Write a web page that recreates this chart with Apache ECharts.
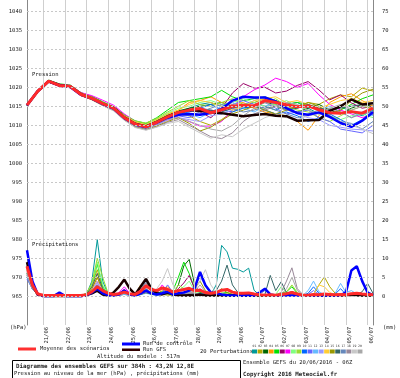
<!DOCTYPE html>
<html><head><meta charset="utf-8">
<script src="https://cdn.jsdelivr.net/npm/echarts@6/dist/echarts.min.js"></script>
<style>html,body{margin:0;padding:0;background:#fff}#c{width:400px;height:378px}</style>
</head><body><div id="c"></div>
<script>
// ---- axes / ticks ----
const hours12 = [0,12,24,36,48,60,72,84,96,108,120,132,144,156,168,180,192,204,216,228,240,252,264,276,288,300,312,324,336,348,360,372,384];
const hours6 = [0,6,12,18,24,30,36,42,48,54,60,66,72,78,84,90,96,102,108,114,120,126,132,138,144,150,156,162,168,174,180,186,192,198,204,210,216,222,228,234,240,246,252,258,264,270,276,282,288,294,300,306,312,318,324,330,336,342,348,354,360,366,372,378,384];
const dateLabels = ['21/06','22/06','23/06','24/06','25/06','26/06','27/06','28/06','29/06','30/06','01/07','02/07','03/07','04/07','05/07','06/07'];
const dayHours = [18,42,66,90,114,138,162,186,210,234,258,282,306,330,354,378];
const labelHours = [22,46,70,94,118,142,166,190,214,238,262,286,310,334,358,382];
const leftTicks = [965,970,975,980,985,990,995,1000,1005,1010,1015,1020,1025,1030,1035,1040];
const rightTicks = [0,5,10,15,20,25,30,35,40,45,50,55,60,65,70,75];
const pertNames = ['01','02','03','04','05','06','07','08','09','10','11','12','13','14','15','16','17','18','19','20'];

// ---- pressure (hPa), 12-hourly ----
const meanP = [1015.3,1019.0,1021.6,1020.5,1020.2,1018.1,1017.1,1015.7,1014.5,1012.0,1010.3,1009.6,1010.8,1012.2,1013.4,1014.0,1014.4,1013.3,1014.1,1015.0,1015.3,1015.1,1016.5,1016.0,1015.4,1014.9,1015.1,1014.1,1013.3,1013.2,1013.6,1013.2,1014.5];
const ctrlP = [1015.3,1019.0,1021.6,1020.5,1020.1,1018.0,1017.0,1015.6,1014.4,1011.9,1010.2,1009.5,1010.7,1012.0,1012.8,1013.0,1012.8,1013.2,1014.3,1016.5,1017.5,1017.3,1017.3,1016.3,1014.5,1013.2,1012.8,1013.4,1012.2,1010.6,1009.6,1011.2,1013.5];
const gfsP = [1015.3,1019.0,1021.6,1020.6,1020.2,1018.2,1017.1,1015.7,1014.6,1012.1,1010.4,1009.7,1010.9,1012.3,1013.4,1014.0,1013.8,1013.5,1013.2,1012.8,1012.4,1012.7,1013.0,1012.5,1012.4,1011.2,1011.3,1011.4,1013.8,1015.0,1016.8,1015.5,1015.8];
const p01 = [1015.2,1019.1,1021.5,1020.6,1020.0,1018.3,1017.4,1015.9,1014.2,1012.3,1010.6,1009.9,1011.3,1012.8,1013.5,1014.5,1015.5,1016.0,1015.0,1014.5,1015.5,1016.0,1015.0,1014.0,1015.5,1016.0,1014.5,1013.0,1014.0,1015.0,1013.5,1012.5,1014.0];
const p02 = [1015.4,1018.8,1021.7,1020.3,1020.4,1017.9,1016.8,1015.3,1014.0,1011.6,1009.8,1009.2,1010.4,1011.8,1013.0,1012.5,1011.0,1010.0,1011.5,1013.5,1015.0,1016.0,1017.0,1016.5,1015.0,1014.5,1016.0,1015.5,1017.0,1018.0,1017.5,1019.8,1019.0];
const p03 = [1015.3,1019.2,1021.8,1020.7,1020.3,1018.4,1017.2,1015.6,1014.6,1012.2,1010.5,1009.9,1011.0,1012.6,1013.8,1014.5,1015.0,1015.5,1016.0,1015.0,1014.5,1015.0,1016.0,1015.5,1014.0,1013.5,1014.5,1015.5,1014.0,1013.0,1014.5,1015.5,1015.0];
const p04 = [1015.2,1018.9,1021.4,1020.4,1020.1,1018.0,1017.5,1016.0,1014.8,1012.5,1011.0,1010.3,1011.6,1013.0,1014.0,1016.0,1016.5,1017.5,1016.0,1015.5,1016.0,1014.5,1013.5,1013.0,1012.5,1011.0,1008.7,1012.5,1016.0,1017.5,1018.3,1016.5,1015.0];
const p05 = [1015.5,1019.0,1021.9,1020.9,1020.6,1018.6,1017.6,1016.2,1014.9,1012.8,1011.2,1010.5,1012.0,1014.0,1016.0,1016.5,1017.0,1017.5,1019.2,1017.5,1016.5,1017.0,1017.5,1016.5,1015.5,1016.0,1015.5,1014.0,1013.0,1014.0,1015.5,1017.0,1018.0];
const p06 = [1015.1,1018.7,1021.3,1020.2,1019.9,1017.8,1016.9,1015.4,1014.3,1011.9,1010.1,1009.3,1010.3,1011.5,1012.5,1014.0,1013.5,1012.0,1014.5,1018.5,1021.0,1019.8,1020.0,1018.5,1019.0,1020.5,1021.5,1019.3,1016.7,1018.0,1015.9,1014.5,1015.0];
const p07 = [1015.4,1019.2,1021.7,1020.8,1020.5,1018.6,1017.8,1016.6,1015.3,1013.0,1011.0,1009.8,1010.2,1011.4,1012.0,1011.0,1009.8,1009.8,1011.0,1014.0,1017.5,1019.3,1020.6,1022.4,1021.5,1020.0,1021.0,1018.0,1015.5,1014.0,1013.0,1012.0,1013.0];
const p08 = [1015.3,1019.1,1021.6,1020.6,1020.3,1018.3,1017.3,1015.8,1014.7,1012.4,1010.8,1010.2,1011.5,1013.2,1014.5,1015.0,1016.0,1016.5,1015.5,1016.0,1017.0,1016.0,1015.0,1015.5,1016.5,1015.0,1014.0,1013.0,1012.5,1011.5,1012.5,1013.0,1012.0];
const p09 = [1015.2,1018.9,1021.5,1020.5,1020.2,1018.2,1017.2,1015.9,1014.6,1012.6,1011.1,1010.6,1011.8,1013.5,1015.0,1016.5,1015.5,1015.0,1016.0,1017.0,1015.5,1015.0,1016.0,1017.0,1015.0,1014.0,1013.5,1012.0,1011.0,1012.5,1014.0,1015.0,1014.5];
const p10 = [1015.3,1019.0,1021.6,1020.4,1020.0,1017.9,1016.9,1015.5,1014.3,1011.8,1010.2,1009.5,1010.7,1012.0,1013.0,1013.5,1014.5,1015.5,1014.0,1013.5,1014.5,1015.0,1014.0,1013.0,1013.5,1012.5,1011.0,1012.0,1013.0,1011.5,1010.0,1011.5,1013.0];
const p11 = [1015.4,1019.1,1021.8,1020.6,1020.2,1018.0,1016.8,1015.4,1014.1,1011.7,1009.9,1009.1,1010.2,1011.6,1012.5,1012.0,1013.0,1014.0,1013.5,1015.5,1016.5,1015.5,1016.0,1014.5,1013.0,1013.5,1014.0,1012.0,1011.0,1009.0,1008.5,1008.0,1010.0];
const p12 = [1015.3,1018.9,1021.5,1020.3,1020.1,1018.1,1017.0,1015.6,1014.4,1011.9,1010.4,1009.7,1010.9,1012.3,1013.5,1013.0,1012.0,1013.5,1015.0,1016.0,1014.5,1013.5,1015.0,1016.0,1015.5,1014.5,1015.5,1014.0,1015.0,1013.5,1012.0,1013.5,1012.5];
const p13 = [1015.2,1019.0,1021.6,1020.5,1020.3,1018.2,1017.1,1015.5,1014.2,1011.6,1009.7,1009.0,1010.0,1011.4,1012.0,1011.5,1011.0,1012.5,1013.0,1014.0,1015.0,1016.5,1017.5,1016.0,1014.5,1013.0,1012.0,1011.5,1010.0,1009.5,1009.0,1008.8,1008.5];
const p14 = [1015.5,1019.2,1021.7,1020.7,1020.4,1018.5,1017.4,1016.0,1014.8,1012.5,1010.9,1010.1,1011.4,1012.9,1014.0,1015.5,1016.5,1016.0,1015.0,1014.0,1015.0,1016.5,1017.0,1017.5,1016.0,1016.5,1015.5,1014.5,1015.5,1016.5,1017.0,1016.0,1016.5];
const p15 = [1015.3,1018.8,1021.4,1020.4,1020.0,1017.8,1016.7,1015.2,1013.9,1011.4,1009.6,1008.9,1009.8,1011.0,1012.0,1010.5,1008.5,1009.5,1011.3,1013.0,1014.0,1015.0,1014.0,1013.0,1014.0,1015.0,1016.0,1015.0,1013.0,1014.0,1016.5,1018.5,1019.5];
const p16 = [1015.3,1019.0,1021.6,1020.5,1020.2,1018.1,1017.2,1015.8,1014.5,1012.1,1010.4,1009.8,1011.0,1012.5,1013.5,1014.0,1014.5,1014.0,1013.5,1014.5,1015.5,1015.0,1014.5,1015.0,1014.0,1014.5,1015.5,1014.5,1014.0,1014.5,1015.0,1015.5,1016.0];
const p17 = [1015.2,1019.1,1021.5,1020.6,1020.1,1018.0,1017.0,1015.6,1014.4,1011.9,1010.2,1009.4,1010.6,1012.0,1013.0,1012.5,1013.5,1014.5,1015.5,1014.5,1013.5,1014.0,1015.0,1014.0,1013.0,1012.0,1013.0,1014.0,1012.5,1011.0,1010.5,1009.0,1011.0];
const p18 = [1015.4,1018.9,1021.6,1020.4,1020.2,1018.2,1016.9,1015.3,1014.0,1011.5,1009.5,1008.8,1009.6,1010.8,1011.5,1010.0,1008.5,1007.0,1006.5,1008.0,1011.0,1013.0,1014.0,1015.0,1014.0,1013.5,1012.5,1013.5,1014.5,1013.5,1012.0,1013.0,1013.5];
const p19 = [1015.3,1019.0,1021.7,1020.5,1020.1,1018.0,1016.8,1015.2,1013.8,1011.3,1009.4,1008.7,1009.5,1010.5,1011.0,1009.5,1008.0,1006.6,1007.5,1007.0,1009.0,1010.5,1012.0,1013.0,1012.0,1011.5,1012.5,1013.0,1012.0,1011.0,1010.0,1009.0,1007.8];
const p20 = [1015.3,1019.1,1021.5,1020.6,1020.3,1018.3,1017.1,1015.5,1014.2,1011.8,1010.0,1009.2,1010.3,1011.6,1012.0,1011.0,1010.0,1009.0,1008.5,1010.0,1012.5,1014.5,1016.0,1015.0,1016.0,1015.5,1014.0,1013.0,1014.5,1015.5,1014.0,1015.0,1016.0];

// ---- precipitation (mm), 6-hourly ----
const meanR = [7.9,3.0,0.6,0.3,0.2, 0.2,0.3,0.2,0.2,0.2, 0.2,0.4,1.2,2.5,1.5, 0.8,0.5,0.7,1.1,0.7, 0.5,1.3,2.8,1.8,1.5, 2.2,1.8,1.1,1.5,1.8, 2.1,1.5,1.6,1.0,0.8, 1.0,1.6,1.8,1.1,0.8, 0.8,0.9,0.6,0.4,0.3, 0.4,0.3,0.5,0.7,1.0, 0.6,0.3,0.3,0.5,0.4, 0.6,0.5,0.4,0.5,0.4, 0.7,0.8,0.6,0.5,0.4];
const ctrlR = [12.1,4.0,0.5,0.1,0.1, 0.1,1.0,0.1,0.1,0.1, 0.1,0.3,1.0,2.0,0.8, 0.3,0.2,0.5,1.5,0.5, 0.2,0.8,1.5,0.8,0.5, 0.8,1.2,0.5,0.8,1.0, 1.5,2.1,6.4,2.9,1.0, 0.8,0.5,0.3,0.2,0.2, 0.2,0.2,0.2,1.0,2.0, 0.5,0.2,0.2,0.2,0.2, 0.2,0.2,0.2,0.2,0.2, 0.2,0.2,0.2,0.2,1.1, 6.8,7.9,4.0,1.0,0.3];
const gfsR = [9.0,3.0,0.4,0.1,0.1, 0.1,0.1,0.1,0.1,0.1, 0.1,0.3,0.8,1.5,0.5, 0.2,1.0,2.5,4.4,2.0, 0.5,2.5,4.6,2.0,0.8, 0.5,1.0,0.5,0.3,0.2, 0.3,0.2,0.5,0.2,0.2, 0.3,0.2,0.2,0.3,0.2, 0.2,0.2,0.2,0.2,0.3, 0.2,0.3,0.2,0.5,1.0, 0.4,0.2,0.2,0.3,0.2, 0.3,0.2,0.2,0.2,0.3, 0.4,0.3,0.2,0.3,0.2];
const r01 = [6,2.5,0.5,0.1,0.1, 0.1,0.1,0.1,0.1,0.1, 0.1,0.5,4,14.9,4, 0.5,0.2,0.3,0.8,0.3, 0.2,0.5,1,0.5,0.3, 0.5,0.8,0.3,0.5,0.8, 1,0.5,0.8,0.5,0.5, 3,13.4,11.7,7.4,7.1, 6.4,7.4,1.6,0.3,0.2, 0.3,0.2,0.5,0.3,0.5, 0.3,0.2,0.2,0.3,0.2, 0.3,0.2,0.2,0.3,0.2, 0.2,0.3,0.5,0.8,0.3];
const r02 = [5,2,0.4,0.1,0.1, 0.1,0.1,0.1,0.1,0.1, 0.1,0.8,3,7,2, 0.4,0.2,0.3,0.5,0.3, 0.2,0.6,1.2,0.6,0.4, 0.5,0.3,0.3,0.6,1.0, 0.8,0.5,0.6,0.4,0.3, 0.5,0.8,0.6,0.4,0.3, 0.3,0.2,0.2,0.2,0.2, 0.2,0.2,0.3,0.5,0.4, 0.3,0.2,0.2,0.5,3, 5.1,2.5,0.8,0.3,0.2, 0.3,0.4,0.3,0.2,0.2];
const r03 = [7,2.5,0.5,0.1,0.1, 0.1,0.1,0.1,0.1,0.1, 0.1,0.4,1.5,4,1.2, 0.4,0.2,0.4,1.0,0.4, 0.2,0.5,1.5,1.0,0.6, 1.0,0.8,0.6,3,8, 9.7,3,1.0,0.5,0.3, 0.4,0.6,0.4,0.3,0.2, 0.2,0.2,0.2,0.2,0.2, 0.2,0.3,0.2,0.4,0.8, 0.3,0.2,0.2,0.2,0.2, 0.3,0.2,0.2,0.2,0.2, 0.3,0.2,0.3,0.2,0.2];
const r04 = [8,3,0.6,0.1,0.1, 0.1,0.2,0.1,0.1,0.1, 0.1,0.5,2,5,1.5, 0.5,0.2,0.5,1.2,0.5, 0.3,1.0,2.0,1.0,0.6, 1.5,2.5,1.0,0.6,0.5, 0.8,0.6,0.5,0.4,0.3, 0.5,0.8,0.5,0.3,0.3, 0.3,0.2,0.2,0.2,0.2, 0.3,0.2,0.4,0.6,1.0, 0.4,0.2,0.2,0.3,0.2, 0.3,0.3,0.2,0.3,0.2, 0.5,0.4,0.3,0.2,0.2];
const r05 = [6,2.5,0.5,0.1,0.1, 0.1,0.1,0.1,0.1,0.1, 0.1,0.8,3,8.5,2.5, 0.6,0.3,0.4,0.8,0.4, 0.3,0.8,1.5,0.8,0.8, 1.2,1.0,1.5,5,9, 6,2,1.0,0.6,0.4, 0.5,0.8,1.0,0.5,0.4, 0.3,0.3,0.2,0.2,0.2, 0.3,0.3,0.8,1.2,2.5, 0.8,0.3,0.2,0.3,0.2, 0.3,0.2,0.2,0.3,0.2, 0.3,0.4,0.3,0.2,0.2];
const r06 = [5.5,2,0.4,0.1,0.1, 0.1,0.1,0.1,0.1,0.1, 0.1,0.3,1.2,3,1.0, 0.3,0.3,0.8,1.8,0.6, 0.4,1.5,3.5,1.5,0.8, 0.8,0.6,0.8,2.0,3.5, 5.5,2.0,0.8,0.4,0.3, 0.4,0.5,0.4,0.3,0.2, 0.2,0.2,0.2,0.2,0.2, 0.2,0.2,0.3,0.3,0.5, 0.3,0.2,0.2,0.2,0.2, 0.2,0.2,0.2,0.2,0.2, 0.3,0.2,0.2,0.2,0.2];
const r07 = [6.5,2.5,0.5,0.1,0.1, 0.1,0.1,0.1,0.1,0.1, 0.1,0.4,1.5,4,1.2, 0.4,0.3,1.0,2.5,0.8, 0.3,0.8,1.2,0.8,1.0, 3,1.5,0.6,0.5,0.6, 0.8,1.0,2.0,0.8,0.4, 0.3,0.4,0.3,0.2,0.2, 0.2,0.2,0.2,0.2,0.2, 0.3,0.2,0.2,0.3,0.5, 0.3,0.2,0.2,0.2,0.2, 0.2,0.2,0.2,0.2,0.2, 0.2,0.3,0.2,0.2,0.2];
const r08 = [7.5,3,0.6,0.1,0.1, 0.1,0.1,0.1,0.1,0.1, 0.1,0.6,3,9,3, 0.5,0.2,0.4,0.8,0.4, 0.3,0.6,1.2,0.6,0.5, 0.8,1.0,0.8,1.5,2.5, 4,1.5,0.8,0.5,0.4, 0.5,0.6,0.5,0.3,0.3, 0.3,0.2,0.2,0.2,0.2, 0.3,0.5,2.5,1.0,0.6, 0.3,0.2,0.2,0.3,0.2, 0.3,0.2,0.2,0.2,0.2, 0.3,0.3,0.2,0.2,0.2];
const r09 = [6,2.5,0.5,0.1,0.1, 0.1,0.1,0.1,0.1,0.1, 0.1,0.8,3.5,10,5, 0.8,0.3,0.4,0.7,0.4, 0.3,0.5,1.0,0.6,0.5, 0.7,0.6,0.8,3,2, 1.5,1.0,0.6,0.4,0.3, 0.4,0.5,0.4,0.3,0.3, 0.2,0.2,0.2,0.2,0.2, 0.2,0.3,0.5,1.2,3, 1.0,0.3,0.2,0.2,0.2, 0.2,0.2,0.2,0.2,0.2, 0.2,0.3,0.2,0.2,0.2];
const r10 = [5,2,0.4,0.1,0.1, 0.1,0.1,0.1,0.1,0.1, 0.1,0.3,1.2,3,1.0, 0.3,0.2,0.3,0.6,0.4, 0.3,0.8,2.0,0.8,0.4, 0.5,0.6,0.4,0.5,0.6, 0.8,0.6,0.8,0.5,0.3, 0.3,0.4,0.3,0.2,0.2, 0.2,0.2,0.2,0.2,0.2, 0.2,0.2,0.2,0.3,0.3, 0.2,0.2,0.8,2.5,0.8, 0.3,0.2,0.6,2,0.5, 0.3,0.2,0.2,0.2,0.2];
const r11 = [4.5,2,0.4,0.1,0.1, 0.1,0.1,0.1,0.1,0.1, 0.1,0.3,1.0,2,0.8, 0.3,0.2,0.3,0.5,0.3, 0.2,0.5,1.0,0.6,0.5, 1.0,3,1.0,0.5,0.4, 0.6,0.5,0.6,0.4,0.3, 0.3,0.3,0.3,0.2,0.2, 0.2,0.2,0.2,0.2,0.2, 0.2,0.2,0.2,0.2,0.3, 0.2,0.2,0.5,1.5,0.5, 0.2,0.2,0.2,0.3,0.2, 0.3,0.2,0.2,0.2,0.2];
const r12 = [5,2,0.4,0.1,0.1, 0.1,0.1,0.1,0.1,0.1, 0.1,0.3,1.0,2.5,0.8, 0.3,0.2,0.3,0.5,0.3, 0.2,0.4,0.8,0.5,0.4, 0.5,0.5,0.4,0.5,0.6, 0.8,0.6,0.5,0.4,0.3, 0.3,0.4,0.3,0.2,0.2, 0.2,0.2,0.2,0.2,0.2, 0.2,0.2,0.2,0.3,0.2, 0.2,0.2,1.5,4.0,1.2, 0.4,0.3,0.8,3.4,1.0, 1.5,0.6,0.3,0.2,0.2];
const r13 = [6,2.5,0.5,0.1,0.1, 0.1,0.1,0.1,0.1,0.1, 0.1,0.4,1.5,3.5,1.0, 0.3,0.3,0.6,1.5,0.5, 0.3,0.6,1.2,0.6,0.4, 0.6,0.8,0.5,0.6,0.8, 1.2,2.5,5,3,1.0, 0.5,0.6,0.4,0.3,0.2, 0.2,0.2,0.2,0.2,0.2, 0.2,0.2,0.2,0.3,0.4, 0.3,0.2,0.3,0.6,0.3, 0.2,0.2,0.2,0.4,0.2, 0.3,0.2,0.2,0.2,0.2];
const r14 = [7,2.5,0.5,0.1,0.1, 0.1,0.1,0.1,0.1,0.1, 0.1,0.6,2.5,6,2, 0.5,0.2,0.4,0.8,0.4, 0.4,3,1.5,0.6,0.5, 0.8,0.6,0.5,0.6,0.8, 1.0,0.6,0.5,0.4,0.3, 0.4,0.5,0.4,0.3,0.2, 0.2,0.2,0.2,0.2,0.2, 0.2,0.2,0.3,0.4,0.6, 0.3,0.2,0.2,0.5,3, 2.5,1.0,0.4,0.3,0.2, 0.3,0.3,0.2,0.2,0.2];
const r15 = [6.5,2.5,0.5,0.1,0.1, 0.1,0.1,0.1,0.1,0.1, 0.1,0.5,2,5,1.5, 0.4,0.2,0.4,0.8,0.4, 0.3,0.6,1.0,0.6,0.5, 0.7,0.6,0.5,0.8,1.0, 1.5,2,4,1.5,0.6, 0.8,2,1.0,0.5,0.3, 0.3,0.3,0.2,0.2,0.2, 0.2,0.2,0.3,0.4,0.5, 0.3,0.2,0.2,0.2,0.2, 0.3,0.2,0.2,0.2,0.2, 0.3,0.2,0.2,0.2,0.2];
const r16 = [8,3,0.6,0.1,0.1, 0.1,0.1,0.1,0.1,0.1, 0.1,0.6,2.5,6,2, 0.5,0.2,0.4,0.9,0.4, 0.3,0.5,1.0,0.6,0.5, 0.7,0.7,0.5,0.6,0.8, 1.0,0.6,0.5,0.4,0.5, 1.5,4,8.2,3,1.0, 0.6,0.5,0.4,0.3,0.5, 5.5,1.5,3.8,1.0,0.5, 0.3,0.2,0.2,0.3,0.2, 0.3,0.2,0.2,0.3,0.2, 0.3,0.5,1.2,3.4,0.8];
const r17 = [5,2,0.4,0.1,0.1, 0.1,0.1,0.1,0.1,0.1, 0.1,0.3,0.8,1.5,0.6, 0.3,0.2,0.4,0.8,0.4, 0.3,1.5,4,1.5,0.6, 1.0,2,0.8,0.5,0.5, 0.6,0.5,0.6,0.4,0.3, 0.3,0.4,0.3,0.2,0.2, 0.2,0.2,0.2,0.5,1.5, 0.5,0.2,0.2,0.3,0.3, 0.2,0.2,0.2,0.3,0.2, 0.2,0.2,0.2,0.3,0.2, 0.3,0.3,0.2,0.2,0.2];
const r18 = [6,2.5,0.5,0.1,0.1, 0.1,0.1,0.1,0.1,0.1, 0.1,0.4,1.2,3,1.0, 0.3,0.2,0.4,0.8,0.4, 0.3,0.6,1.0,0.8,1.0, 2,1.2,0.6,0.5,0.6, 0.8,0.6,0.6,0.4,0.3, 0.3,0.4,0.3,0.2,0.2, 0.2,0.2,0.2,0.2,0.2, 0.3,0.4,1.0,4,7.5, 2,0.5,0.2,0.3,0.2, 0.3,0.2,0.2,0.2,0.2, 0.3,0.2,0.2,0.2,0.2];
const r19 = [7,2.5,0.5,0.1,0.1, 0.1,0.1,0.1,0.1,0.1, 0.1,0.5,1.5,4,1.5, 0.4,0.2,0.4,0.8,0.5, 0.4,0.8,1.5,1.2,2, 4,7.3,3,1.0,0.8, 1.0,1.5,4,7.0,3, 1.0,0.6,0.4,0.3,0.2, 0.2,0.2,0.2,0.2,0.2, 0.2,0.2,0.3,0.5,0.4, 0.3,0.2,0.2,0.3,0.2, 0.3,0.2,0.2,0.2,0.2, 0.3,0.2,0.2,0.2,0.2];
const r20 = [5.5,2,0.5,0.1,0.1, 0.1,0.1,0.1,0.1,0.1, 0.1,0.3,1.0,2,0.8, 0.3,0.2,0.4,0.9,0.4, 0.3,1.2,3.5,1.2,0.6, 0.8,0.8,0.5,0.6,0.8, 1.0,1.2,3,1.2,0.5, 0.4,0.5,0.4,0.3,0.2, 0.2,0.2,0.2,0.2,0.2, 0.2,0.3,0.5,2,5, 1.5,0.4,0.2,0.3,0.2, 0.3,0.2,0.2,0.2,0.2, 0.3,0.2,0.2,0.2,0.2];

const pertP = [p01,p02,p03,p04,p05,p06,p07,p08,p09,p10,p11,p12,p13,p14,p15,p16,p17,p18,p19,p20];
const pertR = [r01,r02,r03,r04,r05,r06,r07,r08,r09,r10,r11,r12,r13,r14,r15,r16,r17,r18,r19,r20];
const pertColors = ['#009999','#b3a800','#006600','#ff9900','#00e000','#990066','#ff00ff','#80ff80','#99dd33','#0066ff','#6666ff','#66bbff','#9999ff','#ffcc33','#999900','#336666','#6688bb','#998899','#c8c8c8','#a8a8a8'];

// ---- build chart ----
const chart = echarts.init(document.getElementById('c'), null, {renderer:'canvas'});
const FONT = '"DejaVu Sans Mono", monospace';
const pair = (hs, vs) => hs.map((h, i) => [h, vs[i]]);

const series = [];
series.push({
  type:'line', data:[[0,1000]], showSymbol:false, lineStyle:{opacity:0}, z:1, silent:true,
  markLine:{silent:true, symbol:['none','none'], label:{show:false}, animation:false,
    data:[].concat(
      dayHours.map(h => ({xAxis:h, lineStyle:{color:'#cfcfcf', width:1, type:'solid'}})),
      leftTicks.map(v => ({yAxis:v, lineStyle:{color:'#c8c8c8', width:1, type:[2,2]}}))
    )}
});
pertP.forEach((arr, k) => series.push({type:'line', data:pair(hours12, arr), showSymbol:false, yAxisIndex:0, lineStyle:{color:pertColors[k], width:1}, z:2, silent:true}));
pertR.forEach((arr, k) => series.push({type:'line', data:pair(hours6, arr), showSymbol:false, yAxisIndex:1, lineStyle:{color:pertColors[k], width:1}, z:2, silent:true}));
series.push({type:'line', data:pair(hours12, gfsP), showSymbol:false, yAxisIndex:0, lineStyle:{color:'#1a0000', width:2.5}, z:3});
series.push({type:'line', data:pair(hours6, gfsR), showSymbol:false, yAxisIndex:1, lineStyle:{color:'#1a0000', width:2.5}, z:3});
series.push({type:'line', data:pair(hours12, ctrlP), showSymbol:false, yAxisIndex:0, lineStyle:{color:'#0000ff', width:2.5}, z:3});
series.push({type:'line', data:pair(hours6, ctrlR), showSymbol:false, yAxisIndex:1, lineStyle:{color:'#0000ff', width:2.5}, z:3});
series.push({type:'line', data:pair(hours12, meanP), showSymbol:false, yAxisIndex:0, lineStyle:{color:'#ff2a2a', width:3}, z:4});
series.push({type:'line', data:pair(hours6, meanR), showSymbol:false, yAxisIndex:1, lineStyle:{color:'#ff2a2a', width:3}, z:4});

function txt(x, y, s, opt) {
  opt = opt || {};
  return {type:'text', x:x, y:y, z:10, silent:true, style:{text:s, fill:opt.fill||'#222',
    font:(opt.bold?'bold ':'') + (opt.size||5.5) + 'px ' + FONT,
    align:opt.align||'left', textAlign:opt.align||'left', verticalAlign:'middle', textVerticalAlign:'middle'}};
}
const graphics = [
  txt(32, 75, 'Pression'),
  txt(32, 245, 'Précipitations'),
  txt(10, 328, '(hPa)'),
  txt(383, 328, '(mm)'),
  {type:'rect', z:10, shape:{x:18, y:347.5, width:18, height:3}, style:{fill:'#ff3030'}},
  txt(40, 349, 'Moyenne des scénarios'),
  {type:'rect', z:10, shape:{x:122, y:342.5, width:18, height:3}, style:{fill:'#0000ff'}},
  txt(143, 344, 'Run de contrôle'),
  {type:'rect', z:10, shape:{x:122, y:348.5, width:18, height:2.5}, style:{fill:'#330000'}},
  txt(143, 350, 'Run GFS'),
  txt(97, 357, 'Altitude du modele : 517m'),
  txt(200, 352, '20 Perturbations'),
  {type:'rect', z:10, shape:{x:12.5, y:360.5, width:228, height:20}, style:{fill:'none', stroke:'#000', lineWidth:1}},
  txt(16, 366, 'Diagramme des ensembles GEFS sur 384h : 43,2N 12,8E', {bold:true, size:5.8}),
  txt(14, 374, 'Pression au niveau de la mer (hPa) , précipitations (mm)'),
  txt(243, 363, 'Ensemble GEFS du 20/06/2016 - 06Z'),
  txt(243, 374, 'Copyright 2016 Meteociel.fr', {bold:true, size:5.8})
];
pertColors.forEach((c, k) => {
  graphics.push({type:'rect', z:10, shape:{x:252 + k*5.55, y:349.5, width:5, height:4}, style:{fill:c}});
  graphics.push(txt(254.5 + k*5.55, 346.5, pertNames[k], {size:3.2, align:'center', fill:'#333'}));
});

chart.setOption({
  animation:false,
  backgroundColor:'#fff',
  grid:{left:27, right:27, top:0, bottom:53, containLabel:false},
  xAxis:{type:'value', min:0, max:384,
    axisLine:{show:false}, axisTick:{show:false}, splitLine:{show:false},
    axisLabel:{customValues:labelHours, rotate:90, margin:2, fontSize:5.5, fontFamily:FONT, color:'#222',
      formatter:v => dateLabels[labelHours.indexOf(v)] || ''}},
  yAxis:[
    {type:'value', position:'left', min:957.45, max:1042.97,
      axisLine:{show:true, lineStyle:{color:'#888', width:1}}, axisTick:{show:false}, splitLine:{show:false},
      axisLabel:{customValues:leftTicks, margin:5, fontSize:5.5, fontFamily:FONT, color:'#222', formatter:v => String(v)}},
    {type:'value', position:'right', min:-7.55, max:77.97,
      axisLine:{show:true, lineStyle:{color:'#888', width:1}}, axisTick:{show:false}, splitLine:{show:false},
      axisLabel:{customValues:rightTicks, margin:9, fontSize:5.5, fontFamily:FONT, color:'#222', formatter:v => String(v)}}
  ],
  series:series,
  graphic:graphics
});
</script></body></html>
